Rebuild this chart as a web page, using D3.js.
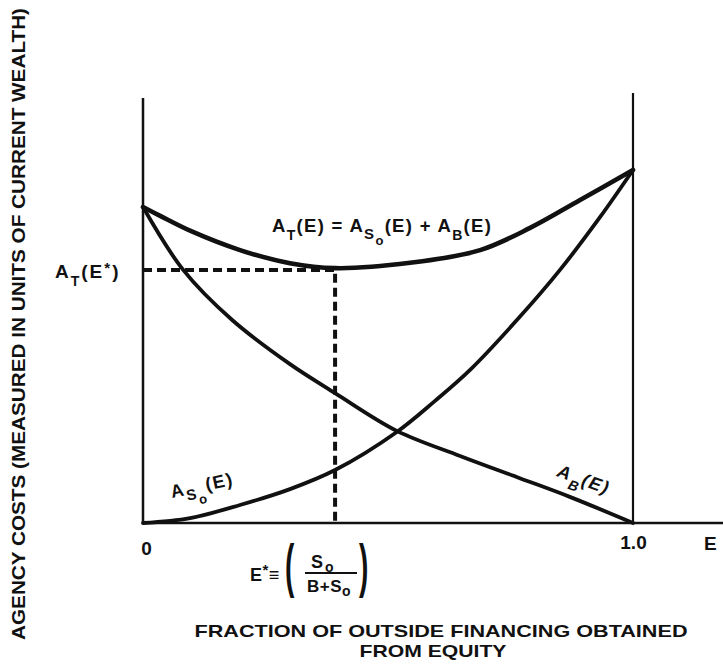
<!DOCTYPE html>
<html>
<head>
<meta charset="utf-8">
<script src="https://cdn.jsdelivr.net/npm/d3@7"></script>
<style>
  html, body { margin: 0; padding: 0; background: #fff; }
  svg text { font-family: "Liberation Sans", Arial, sans-serif; font-weight: bold; fill: #111; }
</style>
</head>
<body>
<div id="chart"></div>
<script>
// --- data: [E, cost] with cost scaled so A_T(1) = 1 ---
const totalCost = [[0, 0.895], [0.035, 0.870], [0.096, 0.828], [0.198, 0.773], [0.300, 0.736],
  [0.392, 0.722], [0.545, 0.737], [0.688, 0.773], [0.790, 0.836], [0.892, 0.915], [1.0, 1.0]];
const bondCost = [[0, 0.895], [0.082, 0.717], [0.182, 0.575], [0.300, 0.450], [0.392, 0.368],
  [0.518, 0.261], [0.647, 0.190], [0.769, 0.127], [0.871, 0.074], [1.0, 0]];
const equityCost = [[0, 0], [0.096, 0.014], [0.198, 0.051], [0.300, 0.096], [0.392, 0.150],
  [0.518, 0.258], [0.596, 0.346], [0.667, 0.433], [0.769, 0.584], [0.851, 0.717], [0.933, 0.867], [1.0, 1.0]];
const optimum = { e: 0.392, cost: 0.717 };
const tickValues = [0, 1];
const tickLabels = ["0", "1.0"];

const W = 723, H = 664;
const svg = d3.select("#chart").append("svg").attr("width", W).attr("height", H);

const x = d3.scaleLinear().domain([0, 1]).range([143, 633]);
const y = d3.scaleLinear().domain([0, 1]).range([523, 170]);

// axes
const axis = svg.append("g").attr("transform", `translate(0,${y(0)})`)
  .call(d3.axisBottom(x).tickValues(tickValues).tickSize(0).tickPadding(13)
    .tickFormat((d, i) => tickLabels[i]));
axis.select(".domain").remove();
axis.selectAll("text").attr("font-size", 19).attr("font-family", "Liberation Sans, Arial, sans-serif")
  .attr("font-weight", "bold").attr("fill", "#111");
axis.selectAll(".tick").filter(d => d === 0).select("text").attr("dx", 3).attr("dy", "1em");

svg.append("line").attr("x1", x(0)).attr("x2", x(1.184)).attr("y1", y(0)).attr("y2", y(0))
  .attr("stroke", "#111").attr("stroke-width", 2.5);
svg.append("line").attr("x1", x(0)).attr("x2", x(0)).attr("y1", y(0)).attr("y2", y(1.204))
  .attr("stroke", "#111").attr("stroke-width", 2.5);
svg.append("line").attr("x1", x(1)).attr("x2", x(1)).attr("y1", y(0)).attr("y2", y(1.218))
  .attr("stroke", "#111").attr("stroke-width", 2.2);

// dashed optimum guides
svg.append("path")
  .attr("d", `M${x(0)},${y(optimum.cost)}H${x(optimum.e)}V${y(0)}`)
  .attr("fill", "none").attr("stroke", "#111").attr("stroke-width", 4)
  .attr("stroke-dasharray", "9,5");

// curves
const line = d3.line().x(d => x(d[0])).y(d => y(d[1])).curve(d3.curveCatmullRom.alpha(0.5));
[[bondCost, 3.8], [equityCost, 3.8], [totalCost, 4.6]].forEach(([d, w]) => {
  svg.append("path").datum(d).attr("d", line)
    .attr("fill", "none").attr("stroke", "#111").attr("stroke-width", w)
    .attr("stroke-linecap", "round");
});

// labels
function label(xp, yp, parts, size, rot, ls) {
  const t = svg.append("text").attr("font-size", size).attr("letter-spacing", ls || 0)
    .attr("transform", `translate(${xp},${yp}) rotate(${rot || 0})`);
  parts.forEach(p => {
    t.append("tspan").attr("dy", p.dy || 0).attr("font-size", p.s || size).text(p.t);
  });
  return t;
}

label(55, 278, [{ t: "A" }, { t: "T", dy: 8, s: 14 }, { t: "(E", dy: -8 },
  { t: "*", dy: -5, s: 15 }, { t: ")", dy: 5 }], 19, 0, 2);

label(272, 232, [{ t: "A" }, { t: "T", dy: 8, s: 14 }, { t: "(E) = A", dy: -8 },
  { t: "S", dy: 7, s: 15 }, { t: "o", dy: 6, s: 13 }, { t: "(E) + A", dy: -13 },
  { t: "B", dy: 8, s: 14 }, { t: "(E)", dy: -8 }], 18.5, 0, 1.3);

label(172, 498, [{ t: "A" }, { t: "S", dy: 6, s: 15 }, { t: "o", dy: 6, s: 13 },
  { t: "(E)", dy: -12 }], 18, -12, 1.5);

label(556, 476, [{ t: "A" }, { t: "B", dy: 8, s: 14 }, { t: "(E)", dy: -8 }], 18, 20, 1.5)
  .attr("font-style", "italic");

// E* definition
label(250, 581, [{ t: "E" }, { t: "*", dy: -6, s: 15 }, { t: "\u2261", dy: 6 }], 18, 0, 0.5);
svg.append("text").attr("font-size", 28).attr("font-weight", "normal")
  .attr("transform", "translate(285,586) scale(1,2.1)").text("(");
label(311, 568, [{ t: "S" }, { t: "o", dy: 4, s: 14 }], 18, 0, 2);
svg.append("line").attr("x1", 305).attr("x2", 357).attr("y1", 573).attr("y2", 573)
  .attr("stroke", "#111").attr("stroke-width", 2);
label(307, 592, [{ t: "B+S" }, { t: "o", dy: 4, s: 14 }], 17, 0, 0.5);
svg.append("text").attr("font-size", 28).attr("font-weight", "normal")
  .attr("transform", "translate(359,586) scale(1,2.1)").text(")");

label(704, 550, [{ t: "E" }], 19);

// axis titles
svg.append("text").attr("x", 441).attr("y", 637).attr("text-anchor", "middle")
  .attr("font-size", 17).attr("textLength", 493).attr("lengthAdjust", "spacingAndGlyphs")
  .text("FRACTION OF OUTSIDE FINANCING OBTAINED");
svg.append("text").attr("x", 433).attr("y", 657).attr("text-anchor", "middle")
  .attr("font-size", 17).attr("textLength", 147).attr("lengthAdjust", "spacingAndGlyphs")
  .text("FROM EQUITY");
svg.append("text").attr("transform", "translate(25,324) rotate(-90)").attr("text-anchor", "middle")
  .attr("font-size", 17.5).attr("textLength", 632).attr("lengthAdjust", "spacingAndGlyphs")
  .text("AGENCY COSTS (MEASURED IN UNITS OF CURRENT WEALTH)");
</script>
</body>
</html>
